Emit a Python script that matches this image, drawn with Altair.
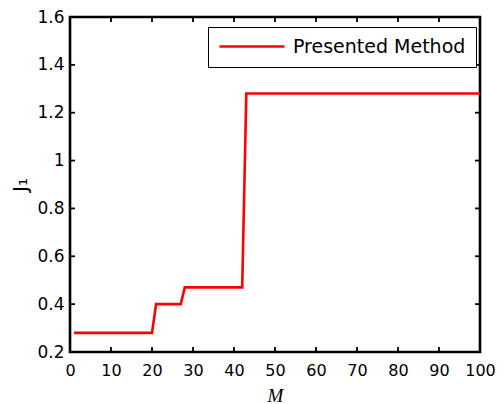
import altair as alt
import pandas as pd

# Data (step curve)
M_vals = [1, 20, 21, 27, 28, 42, 43, 100]
J1_vals = [0.28, 0.28, 0.40, 0.40, 0.47, 0.47, 1.28, 1.28]
series_name = "Presented Method"
x_ticks = [0, 10, 20, 30, 40, 50, 60, 70, 80, 90, 100]
y_ticks = [0.2, 0.4, 0.6, 0.8, 1.0, 1.2, 1.4, 1.6]

W, H = 410, 335
TICK = 5

df = pd.DataFrame({"M": M_vals, "J": J1_vals, "s": [series_name] * len(M_vals)})
xt = pd.DataFrame({"M": x_ticks})
yt = pd.DataFrame({"J": y_ticks})

FONT = "DejaVu Sans"
x_scale = alt.Scale(domain=[0, 100], nice=False, zero=False)
y_scale = alt.Scale(domain=[0.2, 1.6], nice=False, zero=False)

ax_common = dict(
    domain=False, ticks=False, grid=False, labelFont=FONT,
    labelColor="black", labelOverlap=False, labelFlush=False,
)
x_axis = alt.Axis(
    orient="bottom", values=x_ticks, format="d", title="M", labelFontSize=16,
    labelPadding=10, titleFont="Liberation Serif", titleFontStyle="italic",
    titleFontWeight="normal", titleFontSize=19, titleColor="black",
    titlePadding=8, **ax_common)
y_axis = alt.Axis(
    orient="left", values=y_ticks, format="~g", title="J₁", labelFontSize=17,
    labelPadding=6, titleFont=FONT, titleFontWeight="normal",
    titleFontSize=20, titleColor="black", titlePadding=6, **ax_common)

main = alt.Chart(df).mark_line(strokeWidth=2.6, color="#ff0000").encode(
    x=alt.X("M:Q", scale=x_scale, axis=x_axis),
    y=alt.Y("J:Q", scale=y_scale, axis=y_axis),
    color=alt.Color("s:N", scale=alt.Scale(domain=[series_name], range=["#ff0000"]),
                    legend=alt.Legend(title=None, orient="none", legendX=138, legendY=10,
                                      symbolType="stroke", symbolSize=4225,
                                      symbolStrokeWidth=2.6, labelFont=FONT,
                                      labelFontSize=19, labelColor="black",
                                      labelOffset=7, labelLimit=400, clipHeight=19)),
)

rule_style = dict(color="black", strokeWidth=1.8)
xb = alt.Chart(xt).mark_rule(**rule_style).encode(
    x=alt.X("M:Q", scale=x_scale, axis=x_axis), y=alt.value(H), y2=alt.value(H - TICK))
xtop = alt.Chart(xt).mark_rule(**rule_style).encode(
    x=alt.X("M:Q", scale=x_scale, axis=x_axis), y=alt.value(0), y2=alt.value(TICK))
yl = alt.Chart(yt).mark_rule(**rule_style).encode(
    y=alt.Y("J:Q", scale=y_scale, axis=y_axis), x=alt.value(0), x2=alt.value(TICK))
yr = alt.Chart(yt).mark_rule(**rule_style).encode(
    y=alt.Y("J:Q", scale=y_scale, axis=y_axis), x=alt.value(W), x2=alt.value(W - TICK))

chart = alt.layer(main, xb, xtop, yl, yr).properties(
    width=W, height=H,
    padding={"left": 62, "top": 9, "right": 16, "bottom": 52},
    autosize=alt.AutoSizeParams(type="none"),
).configure_view(
    stroke="black", strokeWidth=2.6
).configure_legend(
    strokeColor="black", fillColor="white", padding=10
)

chart.save("out.html", embed_options={"renderer": "svg", "actions": False})
